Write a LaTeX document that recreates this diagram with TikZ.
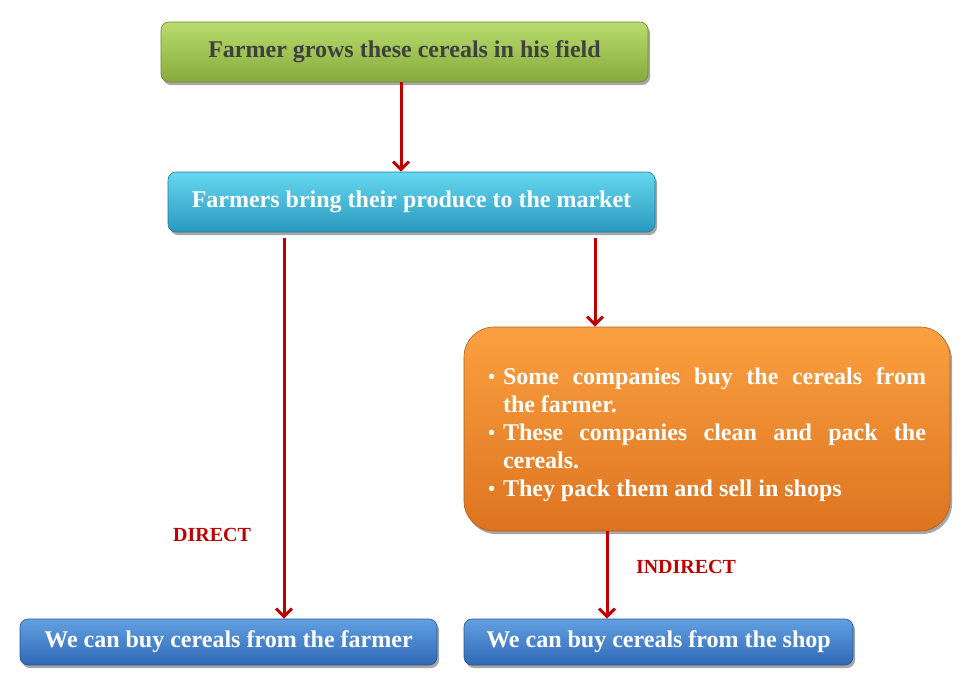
\documentclass[tikz,border=0pt]{standalone}
\usepackage{fontspec}
\setmainfont{Liberation Serif}
\usetikzlibrary{arrows.meta,shadows,calc}
\definecolor{arrred}{HTML}{C00000}
\definecolor{gtop}{HTML}{B8DC6E}
\definecolor{gbot}{HTML}{86AA3C}
\definecolor{ctop}{HTML}{66D8F0}
\definecolor{cbot}{HTML}{2A98BE}
\definecolor{otop}{HTML}{FBA040}
\definecolor{obot}{HTML}{DD7420}
\definecolor{btop}{HTML}{62A0E2}
\definecolor{bbot}{HTML}{3068B4}
\definecolor{dtext}{HTML}{404040}
\newcommand{\mybul}{\hangindent=15pt\hangafter=1\noindent\makebox[15pt][l]{\raisebox{1pt}{\fontsize{20}{20}\selectfont\textbullet}}}
\begin{document}
\begin{tikzpicture}[x=1pt,y=-1pt,
  box/.style={rounded corners=8pt, draw=#1!80!black, line width=0.6pt,
    drop shadow={shadow xshift=2pt, shadow yshift=-3pt, opacity=0.35, fill=black},
    font=\bfseries, inner sep=0pt, align=center},
  arr/.style={draw=arrred, line width=3pt, -{Straight Barb[length=8pt,width=16pt,line width=3pt]}},
  lbl/.style={text=arrred, font=\bfseries\fontsize{20}{24}\selectfont},
  bt/.style={font=\bfseries\fontsize{24}{28}\selectfont}
]
\useasboundingbox (0,0) rectangle (973,697);
\node[box=gbot, bt, top color=gtop, bottom color=gbot, minimum width=487pt, minimum height=60pt,
  text=dtext] (b1) at (404.5,52) {Farmer grows these cereals in his field};
\node[box=cbot, bt, top color=ctop, bottom color=cbot, minimum width=487pt, minimum height=60pt,
  text=white] (b2) at (411.5,202) {Farmers bring their produce to the market};
\node[box=obot, rounded corners=30pt, top color=otop, bottom color=obot, minimum width=486pt, minimum height=204pt,
  text=white] (b3) at (707,429) {\parbox{438pt}{\vspace*{12pt}\fontsize{24}{28}\selectfont\bfseries\hyphenpenalty=10000
  \mybul Some companies buy the cereals from\linebreak the farmer.\par
  \mybul These companies clean and pack the\linebreak cereals.\par
  \mybul They pack them and sell in shops\par}};
\node[box=bbot, bt, top color=btop, bottom color=bbot, minimum width=417pt, minimum height=46pt,
  text=white] (b4) at (228.5,642) {We can buy cereals from the farmer};
\node[box=bbot, bt, top color=btop, bottom color=bbot, minimum width=389pt, minimum height=46pt,
  text=white] (b5) at (658.5,642) {We can buy cereals from the shop};
\coordinate (xt) at (401,0);
\coordinate (xl) at (284,0);
\coordinate (xr) at (595,0);
\coordinate (xo) at (607,0);
\draw[arr] (b1.south -| xt) -- (b2.north -| xt);
\draw[arr] ([yshift=-6pt]b2.south -| xl) -- (b4.north -| xl);
\draw[arr] ([yshift=-6pt]b2.south -| xr) -- (b3.north -| xr);
\draw[arr] (b3.south -| xo) -- (b5.north -| xo);
\node[lbl] (dl) at (212,535) {DIRECT};
\node[lbl] (il) at (686,567) {INDIRECT};
\end{tikzpicture}
\end{document}
